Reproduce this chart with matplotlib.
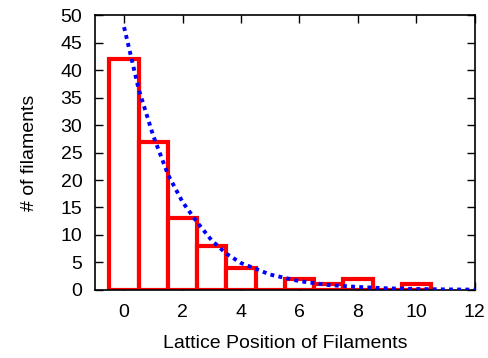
import numpy as np
import matplotlib
matplotlib.use('Agg')
import matplotlib.pyplot as plt

plt.rcParams['font.family'] = ['Liberation Sans', 'DejaVu Sans']

# histogram counts per lattice position
positions = [0, 1, 2, 3, 4, 5, 6, 7, 8, 9, 10]
counts = [42, 27, 13, 8, 4, 0, 2, 1, 2, 0, 1]

# exponential fit curve
fit_x = [0.0, 0.5, 1.0, 1.5, 2.0, 2.5, 3.0, 3.5, 4.0, 5.0, 6.0, 7.0, 8.0, 9.0, 10.0, 11.0, 12.0]
fit_y = [47.8, 36.5, 28.0, 21.0, 16.0, 12.3, 9.0, 6.6, 4.9, 2.8, 1.6, 0.9, 0.55, 0.3, 0.18, 0.1, 0.06]

xticks = [0, 2, 4, 6, 8, 10, 12]
yticks = [0, 5, 10, 15, 20, 25, 30, 35, 40, 45, 50]

fig = plt.figure(figsize=(4.89, 3.58), dpi=100)
ax = fig.add_axes((0.194, 0.19, 0.777, 0.768))

ax.bar(positions, counts, width=1.0, facecolor='white', edgecolor='#ff0000',
       linewidth=3.0, zorder=2)
ax.plot(fit_x, fit_y, color='#0000ff', linestyle=(0, (1, 1.1)), linewidth=2.8,
        zorder=3)

ax.set_xlim(-1, 12)
ax.set_ylim(0, 50)
ax.set_xticks(xticks)
ax.set_yticks(yticks)
ax.tick_params(direction='in', length=6, width=1, top=True, right=True,
               labelsize=14)
ax.tick_params(axis='y', pad=9)
ax.tick_params(axis='x', pad=10)
for s in ax.spines.values():
    s.set_linewidth(1.2)
ax.set_xlabel('Lattice Position of Filaments', fontsize=14, labelpad=10)
ax.set_ylabel('# of filaments', fontsize=14, labelpad=16)

fig.savefig('out.png', dpi=100)
